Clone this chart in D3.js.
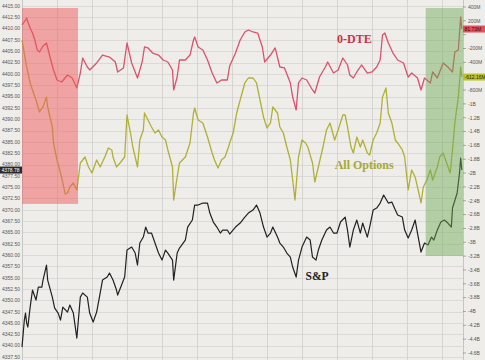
<!DOCTYPE html>
<html>
<head>
<meta charset="utf-8">
<script src="https://cdn.jsdelivr.net/npm/d3@7"></script>
<style>
  body { margin: 0; background: #efedea; }
  #chart svg { display: block; }
</style>
</head>
<body>
<div id="chart"></div>
<script>
// minutes after the open, value
var dte = [[0,140],[3,212],[4,241],[5,183],[7,97],[9,24],[11,-77],[13,-221],[15,-250],[18,-164],[21,-120],[24,-323],[27,-510],[30,-655],[34,-684],[39,-583],[43,-626],[47,-770],[50,-554],[52,-337],[56,-467],[58,-510],[64,-409],[69,-294],[75,-323],[80,-395],[82,-539],[87,-481],[90,-120],[94,-409],[99,-626],[103,-395],[105,-178],[108,-192],[112,-265],[117,-294],[121,-366],[125,-395],[129,-510],[130,-799],[133,-612],[135,-366],[140,-366],[144,-294],[147,-77],[148,-34],[151,-178],[155,-221],[159,-366],[163,-554],[167,-698],[171,-655],[176,-655],[178,-453],[183,-265],[187,-77],[191,39],[194,68],[198,39],[202,24],[206,-178],[208,-395],[213,-294],[217,-192],[221,-467],[225,-481],[230,-698],[232,-901],[235,-1088],[237,-698],[240,-626],[244,-655],[249,-799],[251,-843],[255,-612],[260,-467],[262,-395],[267,-554],[271,-510],[275,-337],[279,-438],[281,-583],[284,-626],[287,-539],[291,-438],[296,-554],[300,-539],[304,-467],[307,-366],[309,-5],[311,24],[314,-120],[318,-265],[322,-366],[327,-409],[331,-612],[334,-554],[339,-626],[342,-799],[345,-626],[350,-698],[352,-539],[356,-626],[361,-409],[365,-467],[369,-539],[371,-250],[374,-221],[376,256],[377,81.73]];

var allOptions = [[0,-77],[4,-467],[7,-698],[9,-799],[12,-944],[15,-1117],[18,-1045],[21,-901],[22,-1045],[26,-1334],[27,-1565],[30,-1811],[33,-1999],[35,-2143],[37,-2302],[39,-2288],[41,-2201],[44,-2143],[47,-2244],[50,-1854],[54,-1768],[57,-1912],[60,-1999],[64,-1811],[67,-1912],[71,-1768],[74,-1637],[77,-1666],[78,-1768],[81,-1912],[84,-1854],[88,-1768],[90,-1161],[93,-1421],[95,-1623],[99,-1912],[101,-1522],[104,-1377],[105,-1132],[108,-1233],[111,-1334],[114,-1421],[117,-1377],[120,-1479],[123,-1522],[125,-1666],[129,-1912],[130,-2389],[133,-2057],[135,-1854],[140,-1768],[144,-1565],[147,-1132],[148,-1060],[151,-1233],[155,-1276],[159,-1479],[163,-1710],[165,-1811],[168,-1926],[171,-1811],[174,-1768],[177,-1623],[178,-1565],[181,-1421],[184,-1132],[187,-944],[191,-698],[194,-626],[198,-626],[201,-698],[204,-944],[207,-1189],[210,-1348],[213,-1276],[215,-1045],[219,-1132],[221,-1334],[224,-1421],[227,-1623],[230,-1811],[232,-2100],[234,-2389],[237,-1768],[240,-1522],[243,-1565],[245,-1623],[249,-1854],[251,-2129],[254,-1912],[258,-1623],[261,-1377],[264,-1276],[268,-1522],[271,-1377],[275,-1161],[277,-1161],[279,-1334],[282,-1623],[284,-1710],[287,-1479],[290,-1623],[292,-1522],[296,-1710],[298,-1739],[301,-1522],[304,-1421],[307,-1276],[309,-901],[312,-770],[314,-1132],[317,-1276],[320,-1522],[322,-1565],[326,-1666],[328,-1768],[331,-2244],[334,-1955],[337,-2057],[339,-2201],[342,-2432],[344,-2201],[347,-2100],[350,-1955],[352,-2100],[356,-1912],[358,-1768],[361,-1710],[364,-1854],[367,-1999],[369,-1666],[371,-1276],[374,-901],[376,-467],[377,-612.16]];

var spx = [[0,4339.69],[2,4345.65],[3,4347.20],[4,4344.99],[5,4344.11],[7,4348.52],[9,4352.28],[12,4350.07],[14,4352.94],[17,4352.94],[18,4354.49],[21,4357.80],[22,4354.49],[26,4350.73],[28,4348.30],[31,4347.20],[33,4345.65],[35,4348.52],[39,4347.42],[41,4348.97],[44,4347.20],[47,4341.68],[50,4350.73],[52,4351.62],[56,4350.73],[58,4347.20],[61,4345.21],[64,4347.42],[67,4351.62],[69,4354.49],[73,4355.15],[75,4356.03],[78,4354.49],[81,4352.28],[82,4351.17],[86,4353.82],[88,4355.15],[90,4361.11],[94,4361.78],[97,4360.45],[99,4357.80],[101,4362.66],[104,4363.98],[106,4366.19],[108,4364.87],[111,4364.87],[114,4362.66],[117,4360.45],[120,4358.90],[123,4361.11],[125,4360.45],[129,4358.90],[130,4354.49],[133,4360.45],[135,4361.55],[140,4363.32],[142,4366.19],[146,4367.74],[148,4371.05],[151,4371.05],[155,4371.49],[159,4371.49],[161,4369.28],[164,4367.30],[167,4366.19],[170,4364.87],[172,4365.53],[176,4365.53],[178,4364.65],[183,4366.19],[187,4367.08],[191,4368.40],[194,4369.28],[198,4369.95],[201,4371.05],[204,4369.28],[207,4366.19],[210,4363.98],[213,4364.87],[215,4366.19],[219,4363.98],[221,4362.66],[224,4361.78],[227,4360.45],[230,4359.57],[232,4357.36],[235,4355.15],[237,4358.90],[240,4361.78],[244,4363.98],[247,4363.32],[249,4359.57],[252,4358.90],[254,4361.11],[257,4363.32],[261,4365.53],[264,4366.19],[267,4364.87],[270,4364.87],[273,4367.30],[277,4368.40],[279,4365.53],[281,4361.78],[284,4365.53],[287,4367.74],[290,4364.87],[292,4367.08],[296,4363.98],[298,4366.19],[301,4369.95],[304,4370.39],[307,4371.49],[310,4373.26],[314,4371.49],[317,4371.71],[320,4369.95],[322,4368.84],[326,4368.40],[328,4365.53],[331,4363.76],[334,4365.53],[337,4367.74],[339,4364.87],[342,4360.67],[345,4362.66],[348,4362.22],[351,4363.98],[353,4363.32],[356,4365.53],[359,4367.30],[362,4367.74],[365,4367.08],[368,4366.19],[369,4370.39],[373,4373.70],[375,4378.12],[376,4381.43],[377,4378.78]];

// shaded windows: start/end minute, lower edge on the S&P axis
var redBox = [0, 48, 4371.3];
var greenBox = [346, 378, 4359.8];

var leftTicks = d3.range(4337.5, 4415.01, 2.5);
var rightTicks = d3.range(400, -4601, -200);
var timeTicks = d3.range(30, 378, 30);

var width = 485,
    height = 360;

var x = d3.scaleLinear().domain([0, 378]).range([22, 463]);
var yL = d3.scaleLinear().domain([4337.5, 4415]).range([357, 6]);
var yR = d3.scaleLinear().domain([-4600, 400]).range([353, 7]);

var svg = d3.select("#chart").append("svg")
    .attr("width", width)
    .attr("height", height)
    .style("font-family", "'Liberation Sans', Arial, sans-serif");

svg.append("rect")
    .attr("width", width).attr("height", height)
    .attr("fill", "#efedea");

var grid = svg.append("g");

grid.selectAll("line.h")
    .data(leftTicks)
  .enter().append("line")
    .attr("x1", x(0)).attr("x2", x(378))
    .attr("y1", function(d) { return Math.round(yL(d)) + 0.5; })
    .attr("y2", function(d) { return Math.round(yL(d)) + 0.5; })
    .attr("stroke", "#d6d4d1").attr("stroke-width", 0.8);

grid.selectAll("line.v")
    .data(timeTicks)
  .enter().append("line")
    .attr("y1", 0).attr("y2", height)
    .attr("x1", function(d) { return Math.round(x(d)) + 0.5; })
    .attr("x2", function(d) { return Math.round(x(d)) + 0.5; })
    .attr("stroke", "#d0cecb").attr("stroke-width", 0.8);

// plot edges
svg.append("line")
    .attr("x1", x(0) + 0.5).attr("x2", x(0) + 0.5)
    .attr("y1", 0).attr("y2", height)
    .attr("stroke", "#c8c6c3");
svg.append("line")
    .attr("x1", x(378) + 0.5).attr("x2", x(378) + 0.5)
    .attr("y1", 0).attr("y2", height)
    .attr("stroke", "#c8c6c3");

var lineL = d3.line()
    .x(function(d) { return x(d[0]); })
    .y(function(d) { return yL(d[1]); });
var lineR = d3.line()
    .x(function(d) { return x(d[0]); })
    .y(function(d) { return yR(d[1]); });

svg.append("path").datum(dte)
    .attr("d", lineR).attr("fill", "none")
    .attr("stroke", "#d9536a").attr("stroke-width", 1.3)
    .attr("stroke-linejoin", "round");
svg.append("path").datum(allOptions)
    .attr("d", lineR).attr("fill", "none")
    .attr("stroke", "#b0b034").attr("stroke-width", 1.3)
    .attr("stroke-linejoin", "round");
svg.append("path").datum(spx)
    .attr("d", lineL).attr("fill", "none")
    .attr("stroke", "#222").attr("stroke-width", 1.2)
    .attr("stroke-linejoin", "round");

// shaded windows go on top of the lines
svg.append("rect")
    .attr("x", x(redBox[0])).attr("width", x(redBox[1]) - x(redBox[0]))
    .attr("y", 8).attr("height", yL(redBox[2]) - 8)
    .attr("fill", "#f05a5a").attr("opacity", 0.5);
svg.append("rect")
    .attr("x", x(greenBox[0])).attr("width", x(greenBox[1]) - x(greenBox[0]))
    .attr("y", 8).attr("height", yL(greenBox[2]) - 8)
    .attr("fill", "#6aa84f").attr("opacity", 0.45);

var lastDte = dte[dte.length - 1][1],
    lastAll = allOptions[allOptions.length - 1][1],
    lastSpx = spx[spx.length - 1][1];

// left axis labels (skip the one hidden under the S&P flag)
svg.append("g").selectAll("text")
    .data(leftTicks.filter(function(d) { return Math.abs(yL(d) - yL(lastSpx)) > 5; }))
  .enter().append("text")
    .attr("x", 20).attr("y", function(d) { return yL(d) + 1.8; })
    .attr("text-anchor", "end")
    .attr("font-size", 5).attr("fill", "#555")
    .text(d3.format(".2f"));

// right axis labels (skip those under the value flags)
function fmtR(v) {
  if (v === 0) return "0";
  if (Math.abs(v) < 1000) return v + "M";
  return (v / 1000) + "B";
}
var ra = svg.append("g");
ra.selectAll("line")
    .data(rightTicks)
  .enter().append("line")
    .attr("x1", 463).attr("x2", 466)
    .attr("y1", function(d) { return yR(d); })
    .attr("y2", function(d) { return yR(d); })
    .attr("stroke", "#777").attr("stroke-width", 0.6);
ra.selectAll("text")
    .data(rightTicks.filter(function(d) {
      return Math.abs(yR(d) - yR(lastDte)) > 6 && Math.abs(yR(d) - yR(lastAll)) > 6;
    }))
  .enter().append("text")
    .attr("x", 468).attr("y", function(d) { return yR(d) + 1.8; })
    .attr("font-size", 5).attr("fill", "#555")
    .text(fmtR);

// last-value flags
function flag(xp, yp, w, bg, fg, txt) {
  svg.append("rect")
      .attr("x", xp).attr("y", yp - 3.5).attr("width", w).attr("height", 7)
      .attr("fill", bg);
  svg.append("text")
      .attr("x", xp + 1.5).attr("y", yp + 1.8)
      .attr("font-size", 5).attr("fill", fg)
      .text(txt);
}
flag(463, yR(lastDte), 22, "#e2505e", "#3a0a10", lastDte.toFixed(2) + "M");
flag(463, yR(lastAll), 22, "#b8c22e", "#2a2a00", lastAll.toFixed(2) + "M");
flag(0, yL(lastSpx), 22, "#2a2a2a", "#fff", lastSpx.toFixed(2));

// series names
var serif = "'Liberation Serif', 'Times New Roman', serif";
svg.append("text")
    .attr("x", x(270)).attr("y", yR(-120))
    .attr("font-family", serif).attr("font-weight", "bold")
    .attr("font-size", 12).attr("fill", "#c8334a")
    .text("0-DTE");
svg.append("text")
    .attr("x", x(268)).attr("y", yR(-1940))
    .attr("font-family", serif).attr("font-weight", "bold")
    .attr("font-size", 12).attr("fill", "#a8a83a")
    .text("All Options");
svg.append("text")
    .attr("x", x(243)).attr("y", yL(4354.4))
    .attr("font-family", serif).attr("font-weight", "bold")
    .attr("font-size", 11.5).attr("fill", "#222")
    .text("S&P");
</script>
</body>
</html>
